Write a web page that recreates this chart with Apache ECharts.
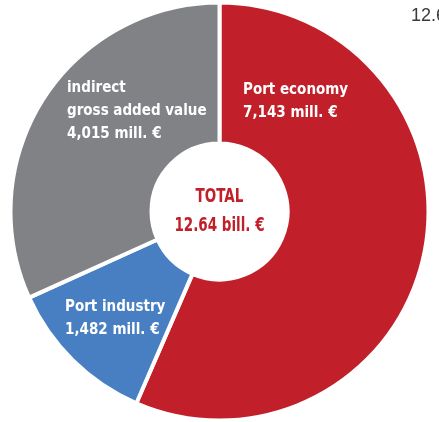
<!DOCTYPE html>
<html>
<head>
<meta charset="utf-8">
<script src="https://cdn.jsdelivr.net/npm/echarts@6/dist/echarts.min.js"></script>
<style>
  html, body { margin: 0; padding: 0; background: #fff; }
  #chart { width: 439px; height: 422px; }
</style>
</head>
<body>
<div id="chart"></div>
<script>
// shares of gross added value (mill. €)
var names = ['Port economy', 'Port industry', 'indirect\ngross added value'];
var values = [7143, 1482, 4015];
var valueTexts = ['7,143 mill. €', '1,482 mill. €', '4,015 mill. €'];
var colors = ['#c1202a', '#487fc2', '#818286'];
var totalText = ['TOTAL', '12.64 bill. €'];

var FONT = '"Liberation Sans Narrow", "DejaVu Sans Condensed", sans-serif';

// where each label block sits (top-left)
var labelPos = [[243, 79], [65, 296], [67, 77]];

var chart = echarts.init(document.getElementById('chart'));

var option = {
    animation: false,
    graphic: [
        {
            type: 'text', left: 411, top: 7,
            style: { text: '12.64', font: '18px "Liberation Sans", sans-serif', fill: '#3a3a3a' }
        },
        {
            type: 'text', x: 219.5, y: 207, scaleX: 0.75,
            style: { text: totalText[0], font: 'bold 20px ' + FONT, fill: colors[0], align: 'center', verticalAlign: 'bottom' }
        },
        {
            type: 'text', x: 219.5, y: 236, scaleX: 0.75,
            style: { text: totalText[1], font: 'bold 20px ' + FONT, fill: colors[0], align: 'center', verticalAlign: 'bottom' }
        }
    ],
    series: [{
        type: 'pie',
        center: [219.5, 211.5],
        radius: [68, 209],
        startAngle: 90,
        clockwise: true,
        silent: true,
        itemStyle: { borderColor: '#fff', borderWidth: 4 },
        label: {
            show: true,
            position: 'inside',
            color: '#fff',
            fontFamily: FONT,
            fontWeight: 'bold',
            fontSize: 15,
            lineHeight: 23,
            align: 'left',
            formatter: function (p) { return p.name + '\n' + valueTexts[p.dataIndex]; }
        },
        labelLine: { show: false },
        labelLayout: function (p) {
            var pos = labelPos[p.dataIndex];
            return { x: pos[0], y: pos[1], align: 'left', verticalAlign: 'top' };
        },
        data: values.map(function (v, i) {
            return { name: names[i], value: v, itemStyle: { color: colors[i] } };
        })
    }]
};
chart.setOption(option);
</script>
</body>
</html>
